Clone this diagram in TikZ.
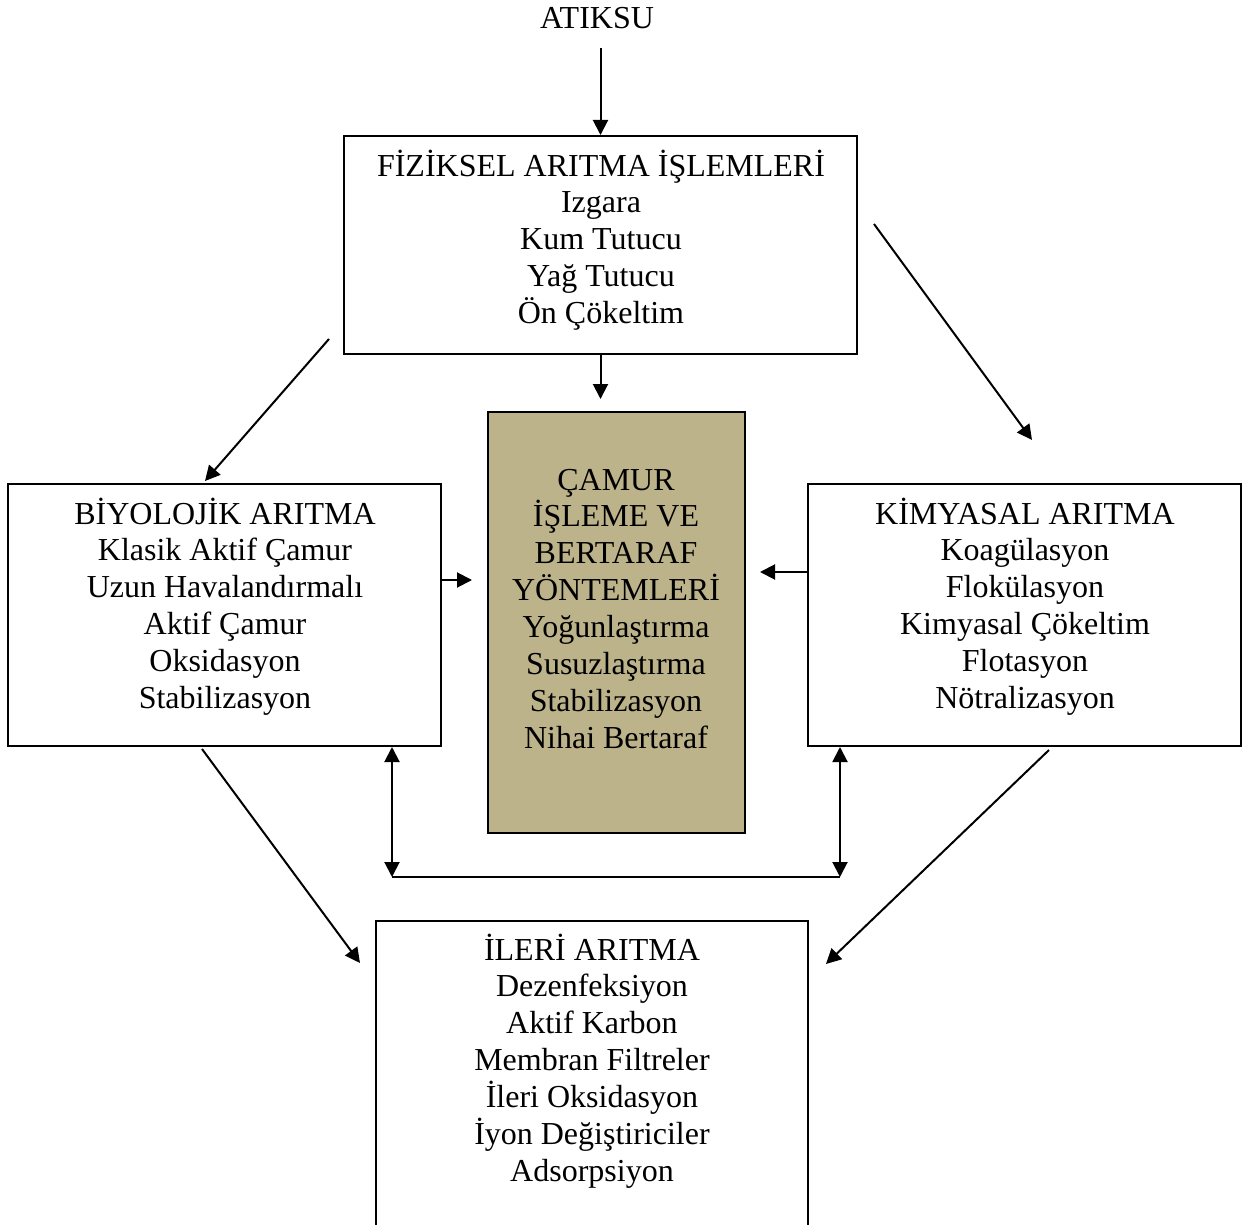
\documentclass[tikz,border=0pt]{standalone}
\usepackage{fontspec}
\setmainfont{Liberation Serif}
\usetikzlibrary{arrows.meta}
\definecolor{mud}{RGB}{189,179,138}
\begin{document}
\begin{tikzpicture}[x=1pt,y=-1pt,
  box/.style={draw, line width=2pt, inner sep=0pt},
  txt/.style={align=center, inner sep=0pt, anchor=base, font=\fontsize{32}{36.9}\selectfont},
  arr/.style={line width=2pt, -{Triangle[length=15pt,width=15pt]}},
  darr/.style={line width=2pt, {Triangle[length=15pt,width=15pt]}-{Triangle[length=15pt,width=15pt]}},
  ln/.style={line width=2pt}]
\useasboundingbox (0,0) rectangle (1256,1225);
\clip (0,0) rectangle (1256,1225);
% boxes
\node[box, minimum width=513pt, minimum height=218pt] (fiz) at (600.5,245) {};
\node[box, minimum width=433pt, minimum height=262pt] (bio) at (224.5,615) {};
\node[box, minimum width=433pt, minimum height=262pt] (kim) at (1024.5,615) {};
\node[box, fill=mud, minimum width=257pt, minimum height=421pt] (cam) at (616.5,622.5) {};
\node[box, minimum width=432pt, minimum height=400pt] (ile) at (592,1121) {};
% texts (base anchor = baseline of the last line)
\node[txt] (atk) at (597,29) {ATIKSU};
\node[txt] (fizt) at (601,323.6) {FİZİKSEL ARITMA İŞLEMLERİ\\Izgara\\Kum Tutucu\\Yağ Tutucu\\Ön Çökeltim};
\node[txt] (biot) at (225,708.5) {BİYOLOJİK ARITMA\\Klasik Aktif Çamur\\Uzun Havalandırmalı\\Aktif Çamur\\Oksidasyon\\Stabilizasyon};
\node[txt] (kimt) at (1025,708.5) {KİMYASAL ARITMA\\Koagülasyon\\Flokülasyon\\Kimyasal Çökeltim\\Flotasyon\\Nötralizasyon};
\node[txt] (camt) at (616,748.3) {ÇAMUR\\İŞLEME VE\\BERTARAF\\YÖNTEMLERİ\\Yoğunlaştırma\\Susuzlaştırma\\Stabilizasyon\\Nihai Bertaraf};
\node[txt] (ilet) at (592,1181.4) {İLERİ ARITMA\\Dezenfeksiyon\\Aktif Karbon\\Membran Filtreler\\İleri Oksidasyon\\İyon Değiştiriciler\\Adsorpsiyon};
% connector end points
\coordinate (a0) at (600.5,48);
\coordinate (a1) at (600.5,399);
\coordinate (d1s) at (329,339);
\coordinate (d1e) at (205,481);
\coordinate (d2s) at (874,224);
\coordinate (d2e) at (1032,440);
\coordinate (e1) at (472,580);
\coordinate (e2) at (760,572);
\coordinate (hl) at (392,877);
\coordinate (hr) at (840,877);
\coordinate (d3s) at (202,749);
\coordinate (d3e) at (360,963);
\coordinate (d4s) at (1049,750);
\coordinate (d4e) at (826,964);
% connectors
\draw[arr] (a0) -- (fiz.north);
\draw[arr] (fiz.south) -- (a1);
\draw[arr] (d1s) -- (d1e);
\draw[arr] (d2s) -- (d2e);
\draw[arr] (e1 -| bio.east) -- (e1);
\draw[arr] (e2 -| kim.west) -- (e2);
\draw[darr] (hl |- bio.south) -- (hl);
\draw[darr] (hr |- kim.south) -- (hr);
\draw[ln] (hl) -- (hr);
\draw[arr] (d3s) -- (d3e);
\draw[arr] (d4s) -- (d4e);
\end{tikzpicture}
\end{document}
